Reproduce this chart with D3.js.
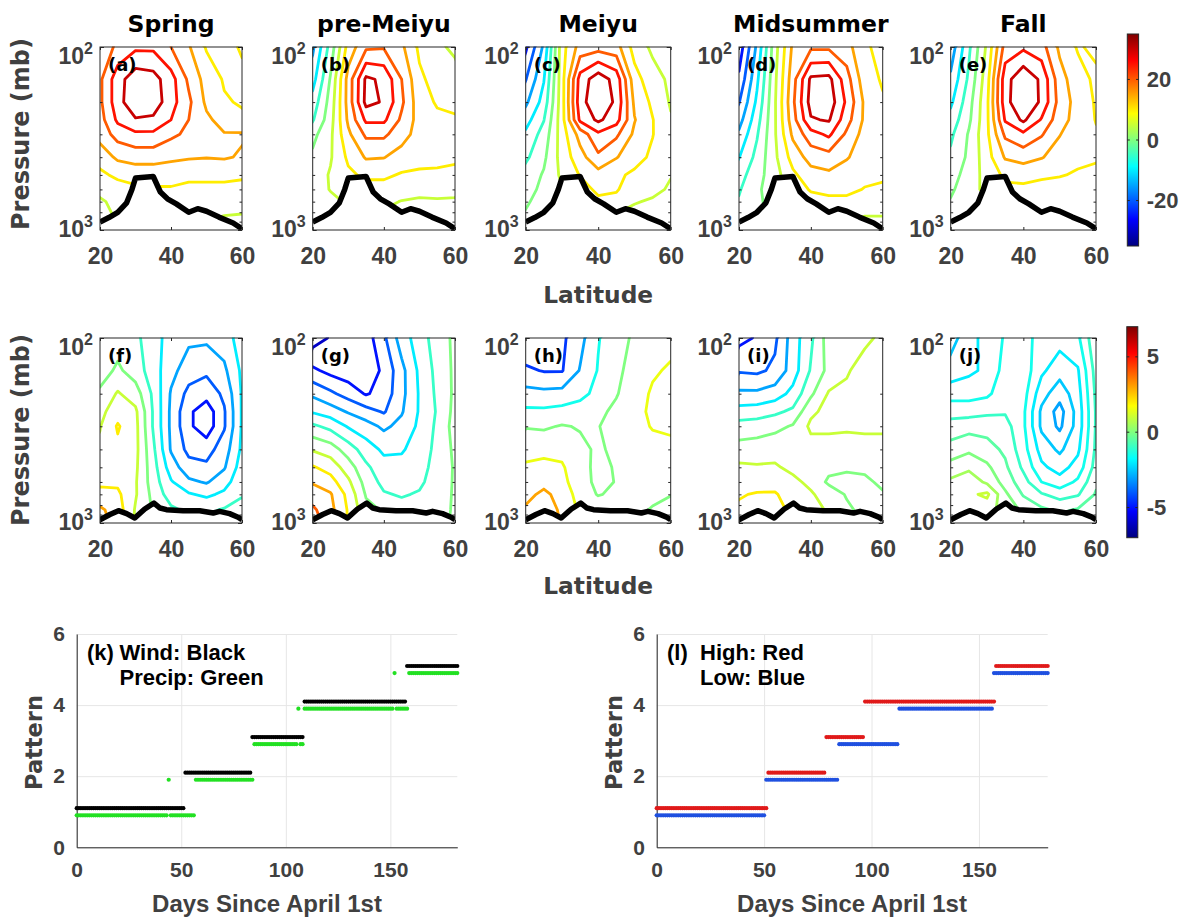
<!DOCTYPE html>
<html>
<head>
<meta charset="utf-8">
<script src="https://cdn.jsdelivr.net/npm/d3@7/dist/d3.min.js"></script>
<style>
html,body{margin:0;padding:0;background:#fff;}
svg{display:block;}
</style>
</head>
<body>
<svg id="fig" width="1187" height="919"></svg>
<script>
// ================= DATA =================
const latitudes = [20, 25, 30, 35, 40, 45, 50, 55, 60];
const pressureLevels = [100, 150, 200, 250, 300, 400, 500, 600, 700, 850, 1000];
const latTicks = [20, 40, 60];
const pressureTicks = [100, 200, 300, 400, 500, 600, 700, 800, 900, 1000];
const pressureTickLabels = [{value: 100, base: "10", exp: "2"}, {value: 1000, base: "10", exp: "3"}];
const seasonTitles = ["Spring", "pre-Meiyu", "Meiyu", "Midsummer", "Fall"];
const upperLetters = ["(a)", "(b)", "(c)", "(d)", "(e)"];
const lowerLetters = ["(f)", "(g)", "(h)", "(i)", "(j)"];

// upper row: rows = pressure levels (100 -> 1000 mb), columns = latitudes
const windSpring = [
  [17, 21, 24, 24, 20, 15.5, 9.5, 8.5, 10.5],
  [19, 28, 33, 32, 27, 19, 13, 9.5, 9],
  [19, 28, 34, 33, 27, 21, 14, 10.5, 9.5],
  [18, 26, 29.5, 29, 25, 20, 16, 13, 11],
  [17, 22, 24, 24, 21, 19, 17, 15.3, 15.5],
  [12, 16, 17, 17, 16, 15.5, 15.2, 15.5, 14.5],
  [9, 11, 12, 12, 12, 11, 11, 11, 10.5],
  [6, 8, 9, 9.5, 9.5, 9, 9, 9, 9],
  [4.5, 6, 7, 8, 8, 8, 7, 7, 7],
  [4, 5.3, 6, 6, 6, 6, 5.5, 4.8, 4.5],
  [3, 4, 5.3, 5.3, 5.3, 5.3, 5.3, 4, 4]
];
const windPreMeiyu = [
  [-16, -3, 12, 19, 19.5, 16, 9, 6, 4],
  [-12, 0.5, 17, 31, 29, 20, 11, 8, 7],
  [-8, 2, 17, 31.5, 29.5, 21, 12, 9.5, 9],
  [-5.5, 3, 16, 26, 26, 19, 13, 11, 10.5],
  [-1.5, 4, 14, 21, 21, 17, 13, 12, 12],
  [1, 4.5, 11, 15.5, 15.2, 13, 12, 11.5, 11],
  [2, 5.5, 9, 11, 11, 9.5, 9, 9, 8.5],
  [3, 5.2, 7, 8, 8, 7, 6, 6.5, 6],
  [3, 4, 5.5, 6, 6, 4.8, 4.5, 4.5, 4.5],
  [2, 3, 4, 4, 4, 4, 4, 4, 3.5],
  [1, 2, 3, 3, 3, 3, 3, 3, 3]
];
const windMeiyu = [
  [-26, -14, 8, 17, 18, 17, 8, 4, 3],
  [-20.3, -10.3, 8, 27, 33, 28, 12, 7, 4],
  [-16, -8, 8, 28, 34, 29, 14, 9, 4.5],
  [-12, -5.2, 8, 26, 31, 27, 15.3, 10.2, 5.5],
  [-9, -3, 7.5, 17, 24, 21, 14, 10.2, 6],
  [-6, -1, 7, 13, 19, 15.3, 12, 9, 5.5],
  [-3, 0.5, 6, 10.3, 13, 11, 9, 8, 5.2],
  [-1.5, 1, 4.8, 8, 11, 10.5, 7, 6, 4.5],
  [-0.5, 1.5, 4, 6, 9, 8.5, 5.3, 4.5, 4],
  [0.5, 2, 3, 4, 5.2, 4, 3.5, 2, 1],
  [1, 2, 3, 3, 4, 3, 3, 1, 0.3]
];
const windMidsummer = [
  [-28, -14, 3, 16, 19, 19, 17, 10.5, 9],
  [-24, -11, 4, 18, 31, 31.5, 22, 12, 9.5],
  [-20.3, -9, 4.5, 19, 32, 33, 24, 14, 10.5],
  [-17, -7, 4.5, 18, 29.5, 30.5, 22, 14, 11],
  [-14, -5.5, 4.5, 16, 23, 26, 19, 13, 11],
  [-10.2, -3.5, 4, 12, 17, 18, 15.5, 12, 11],
  [-7, -2, 3, 9, 13, 14, 12, 11, 10.5],
  [-5.5, -1, 3, 7, 10.5, 11, 11, 9.8, 9.5],
  [-4.5, -1, 2, 5.3, 8, 9, 9, 8, 8],
  [-4, -1, 1, 3, 5.2, 6, 6, 4.8, 4.8],
  [-3, -0.3, 1, 2, 3, 4, 4, 4, 4]
];
const windFall = [
  [-18, -6, 6, 22, 24, 22, 14, 9.5, 11],
  [-14, -4, 8, 28, 34, 29, 17, 12, 9],
  [-11, -2, 9, 28, 35, 29, 18, 13, 9.5],
  [-8, -1, 9, 25.5, 31, 24.5, 17, 13, 9.8],
  [-6, 0.5, 9, 21, 24, 20.5, 15.2, 12, 10.5],
  [-4, 1, 8, 15.5, 17, 15.3, 13, 11, 10.5],
  [-2, 2, 7, 11, 11.5, 11, 10.3, 9.5, 9],
  [-1, 3.5, 6, 9, 9, 8, 8, 8, 8],
  [0.5, 3, 4.5, 7, 7, 7, 7, 7, 7],
  [1, 2, 4, 5.3, 5.3, 5.3, 6, 6, 6],
  [1, 2, 3, 4, 4, 4, 5.2, 5.2, 5.2]
];

// lower row
const flowSpring = [
  [-0.8, -0.5, -0.8, -1.5, -2.5, -2.8, -2.8, -2.5, -1.5],
  [-0.5, 0.2, -0.5, -1.5, -2.7, -3.5, -3.8, -3.2, -1.8],
  [0.2, 1.1, 0.5, -1.2, -3.1, -4.3, -4.6, -3.8, -1.9],
  [0.7, 1.6, 1.2, -1.1, -3.2, -4.8, -5.6, -4.1, -1.9],
  [0.95, 2.1, 1.3, -1.1, -3.2, -4.8, -5.6, -4.1, -1.9],
  [1.2, 1.8, 1.3, -0.8, -3.1, -4.3, -4.4, -3.5, -1.8],
  [1.4, 1.6, 1.2, -0.6, -2.5, -3.6, -3.8, -3.1, -1.5],
  [1.8, 1.8, 1.1, -0.5, -1.9, -2.8, -3.1, -2.4, -1.3],
  [2.3, 2.2, 1.1, -0.3, -1.5, -1.9, -2.2, -1.8, -1.1],
  [3.2, 2.5, 0.9, -0.1, -0.8, -1.2, -1.2, -0.9, -0.6],
  [3.5, 2.5, 0.9, -0.1, -0.5, -0.8, -0.8, -0.6, -0.4]
];
const flowPreMeiyu = [
  [-6.5, -5.9, -5.8, -5.5, -4.2, -2.5, -1.5, -0.5, 0.2],
  [-4.8, -5.3, -5.6, -5.6, -4.8, -3.3, -1.8, -0.7, 0.2],
  [-3.2, -3.8, -4.4, -5.1, -4.6, -3.3, -1.9, -0.8, 0.2],
  [-2.1, -2.5, -3.1, -3.6, -4.1, -3.1, -1.9, -0.9, 0.3],
  [-0.8, -1.3, -2.1, -2.6, -3.2, -2.7, -1.8, -0.8, 0.4],
  [0.9, 0.5, -0.5, -1.5, -2.2, -2.1, -1.6, -0.7, 0.2],
  [2.1, 1.6, 0.5, -0.8, -1.6, -1.7, -1.4, -0.6, 0.1],
  [2.9, 2.4, 1.2, -0.4, -1.3, -1.4, -1.2, -0.5, 0.1],
  [3.5, 3.1, 1.7, -0.1, -0.9, -1.1, -0.9, -0.4, 0.1],
  [4.2, 3.3, 1.9, 0.3, -0.1, -0.6, -0.8, -0.3, 0.1],
  [4.5, 3.5, 1.9, 0.5, 0.2, -0.4, -0.6, -0.2, 0.1]
];
const flowMeiyu = [
  [-6, -5.5, -4.8, -3.5, -1.6, -0.5, 0.2, 0.8, 1],
  [-4.2, -4.6, -4.6, -2.9, -1.4, -0.3, 0.5, 1.3, 1.7],
  [-2.5, -2.6, -2.5, -2, -1, -0.1, 0.8, 1.7, 2],
  [-1.2, -1.2, -1, -0.7, -0.3, 0.3, 1, 1.8, 2],
  [-0.1, -0.2, 0.1, -0.1, -0.05, 0.5, 1, 1.6, 1.7],
  [1, 1, 1, 0.3, -0.2, 0.3, 0.8, 1, 1.2],
  [1.7, 2, 1.7, 0.4, -0.3, 0.1, 0.6, 0.8, 0.8],
  [2.2, 2.6, 2, 0.5, -0.3, 0.05, 0.5, 0.6, 0.5],
  [2.6, 3.3, 2.5, 0.8, -0.1, 0.3, 0.4, 0.3, 0.05],
  [3.2, 3.6, 2.8, 1.2, 1, 0.6, 0.3, -0.1, -0.4],
  [3.5, 3.8, 2.9, 1.4, 1.2, 0.8, 0.2, -0.2, -0.5]
];
const flowMidsummer = [
  [-5.3, -4.9, -4.2, -2.5, -1.2, 0.5, 0.9, 0.9, 1.1],
  [-4.1, -4.2, -3.8, -2.5, -0.9, 0.3, 0.95, 1.2, 1.3],
  [-2.8, -2.8, -2.5, -1.7, -0.2, 1.1, 1.1, 1.3, 1.4],
  [-1.6, -1.5, -1.2, -0.8, 0.8, 1.3, 1.1, 1.3, 1.3],
  [-0.6, -0.5, -0.3, 0.1, 1.2, 1.2, 1.1, 1.1, 1.1],
  [0.4, 0.5, 0.7, 0.9, 0.6, 0.6, 0.7, 0.8, 0.8],
  [1.2, 1.1, 1.1, 0.8, 0.5, 0.3, 0.1, 0.2, 0.4],
  [1.4, 1.5, 1.6, 1.2, 0.8, -0.2, -0.2, -0.2, 0.2],
  [1.9, 2.1, 2.1, 1.5, 1.1, 0.6, -0.1, -0.2, -0.1],
  [2.2, 2.4, 2.3, 1.8, 1.3, 0.9, 0.2, -0.3, -0.2],
  [2.4, 2.5, 2.4, 1.95, 1.5, 0.9, 0.3, -0.3, -0.3]
];
const flowFall = [
  [-2.7, -2.2, -1.8, -1.45, -1.4, -1.6, -1.8, -1.6, -0.6],
  [-2.3, -2.1, -1.9, -1.3, -1.2, -1.9, -2.3, -2.05, -0.8],
  [-1.7, -1.7, -1.6, -1.2, -1.3, -2.3, -2.8, -2.2, -0.9],
  [-1.2, -1.2, -1.1, -1.05, -1.4, -2.6, -3.2, -2.3, -0.95],
  [-0.8, -0.7, -0.7, -0.8, -1.4, -2.6, -3.1, -2.3, -0.95],
  [-0.3, -0.1, -0.3, -0.6, -1.3, -2.2, -2.6, -2.1, -0.9],
  [0.2, 0.4, 0.1, -0.4, -1.1, -1.9, -2.2, -1.8, -0.8],
  [0.6, 0.8, 0.4, -0.2, -0.8, -1.5, -1.8, -1.4, -0.6],
  [0.8, 0.9, 1.1, 0.1, -0.55, -0.95, -1.2, -1.05, -0.45],
  [0.9, 0.8, 0.7, 0.3, -0.1, -0.4, -0.6, -0.45, -0.3],
  [0.9, 0.8, 0.7, 0.4, 0.05, -0.2, -0.3, -0.3, -0.2]
];

const windLevels = [-30, -25, -20, -15, -10, -5, 0, 5, 10, 15, 20, 25, 30];
const flowLevelsSpring = [-5, -4, -3, -2, -1, 0, 1, 2, 3, 4];
const flowLevelsPreMeiyu = [-6, -5, -4, -3, -2, -1, 0, 1, 2, 3, 4];
const flowLevelsMeiyu = [-4.5, -3, -1.5, 0, 1.5, 3];
const flowLevelsMidsummer = [-5, -4, -3, -2, -1, 0, 1, 2];
const flowLevelsFall = [-3, -2.5, -2, -1.5, -1, -0.5, 0, 0.5, 1];

const windColorRange = [-35, 35];
const windColorTicks = [-20, 0, 20];
const flowColorRange = [-7, 7];
const flowColorTicks = [-5, 0, 5];

// terrain (surface) profiles
const topoLatUpper = [20, 22.5, 25, 27.5, 29, 30, 35, 37, 39, 41.5, 45, 47.5, 50, 53.5, 57.5, 60];
const topoPresUpper = [905, 855, 800, 710, 600, 520, 510, 620, 675, 720, 800, 765, 790, 850, 915, 985];
const topoLatLower = [20, 22.8, 25.2, 27.5, 29.8, 32.6, 35.2, 36.9, 38.7, 43.4, 48.1, 51.9, 53.7, 56.5, 58.9, 60];
const topoPresLower = [960, 900, 858, 890, 940, 840, 780, 830, 847, 858, 858, 883, 865, 890, 930, 960];

// bottom panels: [first day, last day, pattern]
const windSegments = [[0, 51, 1], [52, 83, 2], [84, 108, 3], [109, 157, 4], [158, 182, 5]];
const precipSegments = [[0, 43, 1], [44, 44, 2], [45, 56, 1], [57, 84, 2], [85, 105, 3], [106, 106, 4], [107, 108, 3], [109, 151, 4], [152, 152, 5], [153, 158, 4], [159, 182, 5]];
const highSegments = [[0, 51, 1], [52, 78, 2], [79, 96, 3], [97, 157, 4], [158, 182, 5]];
const lowSegments = [[0, 50, 1], [51, 84, 2], [85, 112, 3], [113, 156, 4], [157, 182, 5]];
const dayDomain = [0, 182];
const dayTicks = [0, 50, 100, 150];
const patternDomain = [0, 6];
const patternTicks = [0, 2, 4, 6];

// ================= DRAWING =================
const svg = d3.select("#fig");
const defs = svg.append("defs");
const WIDE = "'DejaVu Sans', Verdana, sans-serif";
const NARROW = "'Liberation Sans', Arial, Helvetica, sans-serif";
const TXT = "#404040";
const AX = "#262626";

const jet = d3.scaleLinear()
  .domain([0, 0.125, 0.375, 0.625, 0.875, 1])
  .range(["#00007f", "#0000ff", "#00ffff", "#ffff00", "#ff0000", "#7f0000"])
  .clamp(true);

const panelLeft = [100, 312.7, 525.7, 739, 950.7];
const panelRight = [242, 455, 670.7, 882.7, 1096];

const rows = [
  { fields: [windSpring, windPreMeiyu, windMeiyu, windMidsummer, windFall],
    levels: [windLevels, windLevels, windLevels, windLevels, windLevels],
    range: windColorRange, ticks: windColorTicks, top: 47, bottom: 230,
    letters: upperLetters, topoLat: topoLatUpper, topoP: topoPresUpper,
    cbar: {x: 1127.3, w: 11.3, y0: 34, y1: 246}, latY: 303, presY: 134 },
  { fields: [flowSpring, flowPreMeiyu, flowMeiyu, flowMidsummer, flowFall],
    levels: [flowLevelsSpring, flowLevelsPreMeiyu, flowLevelsMeiyu, flowLevelsMidsummer, flowLevelsFall],
    range: flowColorRange, ticks: flowColorTicks, top: 338, bottom: 523,
    letters: lowerLetters, topoLat: topoLatLower, topoP: topoPresLower,
    cbar: {x: 1126.8, w: 11, y0: 326.7, y1: 537.7}, latY: 594, presY: 430 }
];

function interpIndex(arr, r, tf) {
  const n = arr.length;
  let i = Math.floor(r);
  i = Math.max(0, Math.min(n - 2, i));
  const f = r - i;
  const a = tf(arr[i]), b = tf(arr[i + 1]);
  return a + f * (b - a);
}
const ident = v => v;

rows.forEach((row, ri) => {
  row.fields.forEach((field, pi) => {
    const x0 = panelLeft[pi], x1 = panelRight[pi];
    const x = d3.scaleLinear().domain([latitudes[0], latitudes[latitudes.length - 1]]).range([x0, x1]);
    const y = d3.scaleLog().domain([pressureLevels[0], pressureLevels[pressureLevels.length - 1]]).range([row.top, row.bottom]);
    const colorT = v => jet((v - row.range[0]) / (row.range[1] - row.range[0]));

    const topoPts = row.topoLat.map((la, k) => [x(la), y(row.topoP[k])]);
    const clipPts = [[x0, row.top - 0.5], [x1, row.top - 0.5]].concat(topoPts.slice().reverse());
    const cid = "clip" + ri + pi;
    defs.append("clipPath").attr("id", cid)
      .append("path").attr("d", "M" + clipPts.map(p => p[0].toFixed(2) + "," + p[1].toFixed(2)).join("L") + "Z");
    const bid = "box" + ri + pi;
    defs.append("clipPath").attr("id", bid)
      .append("rect").attr("x", x0).attr("y", row.top).attr("width", x1 - x0).attr("height", row.bottom - row.top);

    const gC = svg.append("g").attr("clip-path", `url(#${cid})`);
    const gen = d3.contours().size([latitudes.length, pressureLevels.length]).thresholds(row.levels[pi]);
    gen(field.flat()).forEach(c => {
      let d = "";
      c.coordinates.forEach(poly => poly.forEach(ring => {
        d += "M" + ring.map(([cx, cy]) => {
          const la = interpIndex(latitudes, cx - 0.5, ident);
          const p = Math.pow(10, interpIndex(pressureLevels, cy - 0.5, Math.log10));
          return x(la).toFixed(2) + "," + y(p).toFixed(2);
        }).join("L") + "Z";
      }));
      if (d) gC.append("path").attr("d", d).attr("fill", "none")
        .attr("stroke", colorT(c.value)).attr("stroke-width", 2.8)
        .attr("stroke-linejoin", "round");
    });

    svg.append("path").attr("clip-path", `url(#${bid})`)
      .attr("d", d3.line()(topoPts)).attr("fill", "none")
      .attr("stroke", "#000").attr("stroke-width", 5.5).attr("stroke-linejoin", "round");

    svg.append("rect").attr("x", x0).attr("y", row.top).attr("width", x1 - x0).attr("height", row.bottom - row.top)
      .attr("fill", "none").attr("stroke", AX).attr("stroke-width", 1);

    svg.append("g").attr("transform", `translate(0,${row.bottom})`)
      .call(d3.axisBottom(x).tickValues(latTicks).tickSizeInner(-3).tickSizeOuter(0).tickPadding(17.5).tickFormat(d3.format("d")))
      .call(g => {
        g.select(".domain").remove();
        g.selectAll("line").attr("stroke", AX);
        g.selectAll("text").attr("font-family", NARROW).attr("font-weight", "bold").attr("font-size", 23).attr("fill", TXT);
      });
    svg.append("g").attr("transform", `translate(0,${row.top})`)
      .call(d3.axisTop(x).tickValues(latTicks).tickSizeInner(-3).tickSizeOuter(0).tickFormat(""))
      .call(g => { g.select(".domain").remove(); g.selectAll("line").attr("stroke", AX); });

    [[d3.axisLeft, x0, 1], [d3.axisRight, x1, -1]].forEach(([axisFn, xp, sgn]) => {
      svg.append("g").attr("transform", `translate(${xp},0)`)
        .call(axisFn(y).tickValues(pressureTicks).tickSizeInner(-2.5).tickSizeOuter(0).tickFormat(""))
        .call(g => {
          g.select(".domain").remove();
          g.selectAll(".tick line").attr("stroke", AX)
            .attr("x2", d => sgn * ((d === 100 || d === 1000) ? 4 : 2.5));
        });
    });

    pressureTickLabels.forEach(lb => {
      const off = lb.value === pressureLevels[0] ? 17 : 7;
      const t = svg.append("text").attr("x", x0 - 7).attr("y", y(lb.value) + off)
        .attr("text-anchor", "end").attr("font-family", NARROW).attr("font-weight", "bold")
        .attr("font-size", 23).attr("fill", TXT);
      t.append("tspan").text(lb.base);
      t.append("tspan").attr("dy", -10).attr("font-size", 16).text(lb.exp);
    });

    svg.append("text").attr("x", x0 + 8).attr("y", row.top + 23.5)
      .attr("font-family", WIDE).attr("font-weight", "bold").attr("font-size", 18).attr("fill", "#000")
      .text(row.letters[pi]);

    if (ri === 0) {
      svg.append("text").attr("x", (x0 + x1) / 2).attr("y", 32).attr("text-anchor", "middle")
        .attr("font-family", WIDE).attr("font-weight", "bold").attr("font-size", 23.5).attr("fill", "#000")
        .text(seasonTitles[pi]);
    }
    if (pi === 2) {
      svg.append("text").attr("x", (x0 + x1) / 2).attr("y", row.latY).attr("text-anchor", "middle")
        .attr("font-family", WIDE).attr("font-weight", "bold").attr("font-size", 23.3).attr("fill", TXT)
        .text("Latitude");
    }
  });

  svg.append("text").attr("transform", `translate(29,${row.presY}) rotate(-90)`).attr("text-anchor", "middle")
    .attr("font-family", WIDE).attr("font-weight", "bold").attr("font-size", 24).attr("fill", TXT)
    .text("Pressure (mb)");

  const cb = row.cbar;
  const gid = "grad" + ri;
  const grad = defs.append("linearGradient").attr("id", gid).attr("x1", 0).attr("y1", 1).attr("x2", 0).attr("y2", 0);
  jet.domain().forEach((t, k) => grad.append("stop").attr("offset", t).attr("stop-color", jet.range()[k]));
  svg.append("rect").attr("x", cb.x).attr("y", cb.y0).attr("width", cb.w).attr("height", cb.y1 - cb.y0)
    .attr("fill", `url(#${gid})`).attr("stroke", AX).attr("stroke-width", 1);
  const cs = d3.scaleLinear().domain(row.range).range([cb.y1, cb.y0]);
  row.ticks.forEach(v => {
    svg.append("line").attr("x1", cb.x).attr("x2", cb.x + 2.5).attr("y1", cs(v)).attr("y2", cs(v)).attr("stroke", AX);
    svg.append("line").attr("x1", cb.x + cb.w - 2.5).attr("x2", cb.x + cb.w).attr("y1", cs(v)).attr("y2", cs(v)).attr("stroke", AX);
    svg.append("text").attr("x", 1146.7).attr("y", cs(v)).attr("dominant-baseline", "central")
      .attr("font-family", NARROW).attr("font-weight", "bold").attr("font-size", 22).attr("fill", TXT)
      .text(String(v));
  });
});

// ============ bottom panels ============
function expand(segs) {
  const out = [];
  segs.forEach(([a, b, p]) => { for (let d = a; d <= b; d++) out.push({day: d, pattern: p}); });
  return out;
}
const bottomPanels = [
  { x0: 76.7, x1: 457.3,
    series: [{segs: precipSegments, color: "#22e022", off: -0.1}, {segs: windSegments, color: "#000000", off: 0.1}],
    notes: [{x: 87, y: 660, t: "(k)"}, {x: 119.5, y: 660, t: "Wind: Black"}, {x: 119.5, y: 685, t: "Precip: Green"}],
    patX: 42, daysX: 267 },
  { x0: 656.7, x1: 1047.7,
    series: [{segs: lowSegments, color: "#1f50e0", off: -0.1}, {segs: highSegments, color: "#e01a1a", off: 0.1}],
    notes: [{x: 667, y: 660, t: "(l)"}, {x: 700, y: 660, t: "High: Red"}, {x: 700, y: 685, t: "Low: Blue"}],
    patX: 622, daysX: 852 }
];
const bTop = 634, bBottom = 847.3;
bottomPanels.forEach(bp => {
  const xd = d3.scaleLinear().domain(dayDomain).range([bp.x0, bp.x1]);
  const yd = d3.scaleLinear().domain(patternDomain).range([bBottom, bTop]);
  svg.append("g").attr("transform", `translate(0,${bBottom})`)
    .call(d3.axisBottom(xd).tickValues(dayTicks).tickSize(-(bBottom - bTop)).tickFormat(""))
    .call(g => { g.select(".domain").remove(); g.selectAll("line").attr("stroke", "#e6e6e6"); });
  svg.append("g").attr("transform", `translate(${bp.x0},0)`)
    .call(d3.axisLeft(yd).tickValues(patternTicks).tickSize(-(bp.x1 - bp.x0)).tickFormat(""))
    .call(g => { g.select(".domain").remove(); g.selectAll("line").attr("stroke", "#e6e6e6"); });
  svg.append("g").attr("transform", `translate(0,${bBottom})`)
    .call(d3.axisBottom(xd).tickValues(dayTicks).tickSizeInner(0).tickSizeOuter(0).tickPadding(14.8).tickFormat(d3.format("d")))
    .call(g => {
      g.select(".domain").attr("stroke", AX);
      g.selectAll("text").attr("font-family", NARROW).attr("font-weight", "bold").attr("font-size", 21).attr("fill", TXT);
    });
  svg.append("g").attr("transform", `translate(${bp.x0},0)`)
    .call(d3.axisLeft(yd).tickValues(patternTicks).tickSizeInner(0).tickSizeOuter(0).tickPadding(11.7).tickFormat(d3.format("d")))
    .call(g => {
      g.select(".domain").attr("stroke", AX);
      g.selectAll("text").attr("font-family", NARROW).attr("font-weight", "bold").attr("font-size", 21).attr("fill", TXT);
    });
  bp.series.forEach(s => {
    svg.append("g").selectAll("circle").data(expand(s.segs)).join("circle")
      .attr("cx", d => xd(d.day)).attr("cy", d => yd(d.pattern + s.off)).attr("r", 2.1)
      .attr("fill", s.color);
  });
  bp.notes.forEach(n => {
    svg.append("text").attr("x", n.x).attr("y", n.y).attr("font-family", NARROW).attr("font-weight", "bold")
      .attr("font-size", 22).attr("fill", "#000").text(n.t);
  });
  svg.append("text").attr("transform", `translate(${bp.patX},742.5) rotate(-90)`).attr("text-anchor", "middle")
    .attr("font-family", WIDE).attr("font-weight", "bold").attr("font-size", 22.5).attr("fill", TXT).text("Pattern");
  svg.append("text").attr("x", bp.daysX).attr("y", 912).attr("text-anchor", "middle")
    .attr("font-family", NARROW).attr("font-weight", "bold").attr("font-size", 24).attr("fill", TXT).text("Days Since April 1st");
});
</script>
</body>
</html>
